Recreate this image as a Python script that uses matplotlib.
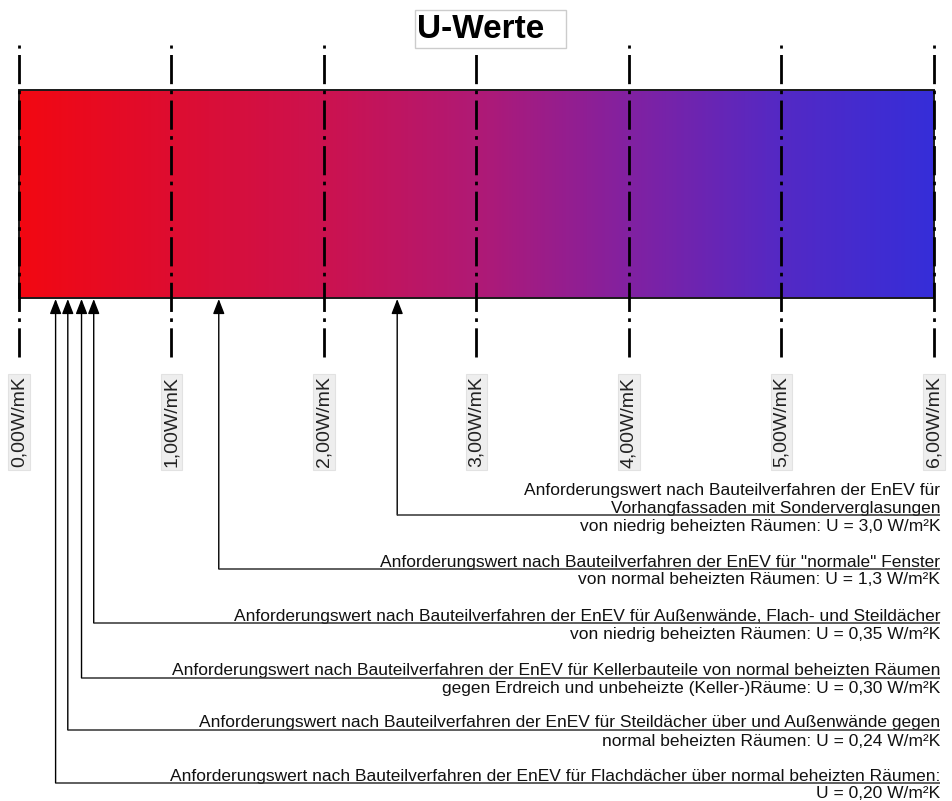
import numpy as np
import matplotlib
matplotlib.use("Agg")
import matplotlib.pyplot as plt
from matplotlib.colors import LinearSegmentedColormap
from matplotlib.patches import Rectangle

plt.rcParams['font.family'] = ['Liberation Sans', 'DejaVu Sans']

# scale ticks
tick_values = [0, 1, 2, 3, 4, 5, 6]
tick_labels = ["0,00W/mK", "1,00W/mK", "2,00W/mK", "3,00W/mK",
               "4,00W/mK", "5,00W/mK", "6,00W/mK"]

# requirement values (as printed) and where the arrows sit in the picture
u_values = [3.0, 1.3, 0.35, 0.30, 0.24, 0.20]
arrow_pos = [2.48, 1.31, 0.49, 0.41, 0.32, 0.24]
text_above = [
    ["Anforderungswert nach Bauteilverfahren der EnEV für",
     "Vorhangfassaden mit Sonderverglasungen"],
    ['Anforderungswert nach Bauteilverfahren der EnEV für "normale" Fenster'],
    ["Anforderungswert nach Bauteilverfahren der EnEV für Außenwände, Flach- und Steildächer"],
    ["Anforderungswert nach Bauteilverfahren der EnEV für Kellerbauteile von normal beheizten Räumen"],
    ["Anforderungswert nach Bauteilverfahren der EnEV für Steildächer über und Außenwände gegen"],
    ["Anforderungswert nach Bauteilverfahren der EnEV für Flachdächer über normal beheizten Räumen:"],
]
text_below = [
    "von niedrig beheizten Räumen: U = 3,0 W/m²K",
    "von normal beheizten Räumen: U = 1,3 W/m²K",
    "von niedrig beheizten Räumen: U = 0,35 W/m²K",
    "gegen Erdreich und unbeheizte (Keller-)Räume: U = 0,30 W/m²K",
    "normal beheizten Räumen: U = 0,24 W/m²K",
    "U = 0,20 W/m²K",
]

# layout (pixel rows)
bar_top, bar_bottom = 90, 298
leader_y = [515, 569, 623, 678, 730, 783]
text_right = 6.04
line_h = 17

fig = plt.figure(figsize=(9.53, 8.01), dpi=100)
ax = fig.add_axes([0, 0, 1, 1])
px = 6 / 915.0
ax.set_xlim(-19 * px, (953 - 19) * px)
ax.set_ylim(801, 0)
ax.axis('off')

# gradient bar red -> blue
cmap = LinearSegmentedColormap.from_list("uw", [
    (0.0, (0.95, 0.03, 0.07)),
    (1 / 6, (0.87, 0.05, 0.19)),
    (2 / 6, (0.80, 0.07, 0.31)),
    (3 / 6, (0.69, 0.10, 0.46)),
    (4 / 6, (0.51, 0.13, 0.63)),
    (5 / 6, (0.33, 0.16, 0.77)),
    (1.0, (0.21, 0.18, 0.85)),
])
grad = np.linspace(0, 1, 512).reshape(1, -1)
ax.imshow(grad, cmap=cmap, aspect='auto', extent=(0, 6, bar_bottom, bar_top),
          zorder=1, interpolation='bilinear')
ax.add_patch(Rectangle((0, bar_top), 6, bar_bottom - bar_top, fill=False,
                       ec='#1a1a1a', lw=1.4, zorder=3))

# dash-dot scale lines
for v, lab in zip(tick_values, tick_labels):
    ax.plot([v, v], [357, 45], color='black', lw=2, zorder=4,
            dashes=(10.5, 2.3, 1.3, 2.3), dash_capstyle='butt')
    ax.text(v, 422, lab, rotation=90, ha='center', va='center', fontsize=14,
            color='#222222', zorder=5,
            bbox=dict(boxstyle='square,pad=0.12', fc='#eeeeee', ec='#e2e2e2', lw=0.8))

# arrows + leader lines + annotations
for i in range(len(u_values)):
    xa = arrow_pos[i]
    y = leader_y[i]
    ax.annotate("", xy=(xa, bar_bottom + 1), xytext=(xa, y),
                arrowprops=dict(arrowstyle='-|>,head_length=0.9,head_width=0.35',
                                color='black', lw=1.0, shrinkA=0, shrinkB=0),
                zorder=6)
    ax.plot([xa, text_right], [y, y], color='#333333', lw=1.1, zorder=6,
            solid_capstyle='butt')
    lines = text_above[i]
    for k, t in enumerate(reversed(lines)):
        ax.text(text_right, y - 2.5 - k * line_h, t, ha='right', va='baseline',
                fontsize=12.5, color='#111111')
    ax.text(text_right, y + 15.5, text_below[i], ha='right', va='baseline',
            fontsize=12.5, color='#111111')

# title
ax.add_patch(Rectangle(((415 - 19) * px, 10), 151 * px, 38, fill=True,
                       fc='white', ec='#cccccc', lw=1, zorder=7))
ax.text((481 - 19) * px, 30, "U-Werte", ha='center', va='center', fontsize=24,
        fontweight='bold', color='black', zorder=8)

fig.savefig("out.png", dpi=100)
